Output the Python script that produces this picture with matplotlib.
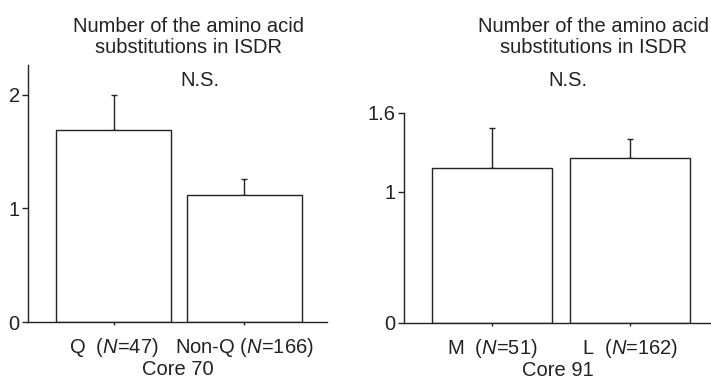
import matplotlib.pyplot as plt
import numpy as np

plt.rcParams['font.family'] = ['Liberation Sans', 'DejaVu Sans']
plt.rcParams['mathtext.fontset'] = 'custom'
plt.rcParams['mathtext.it'] = 'Liberation Sans:italic'
plt.rcParams['mathtext.rm'] = 'Liberation Sans'

title = "Number of the amino acid\nsubstitutions in ISDR"

core70_labels = ["Q  (", "Non-Q ("]
core70_n = [47, 166]
core70_means = [1.69, 1.12]
core70_err = [0.31, 0.14]

core91_labels = ["M  (", "L  ("]
core91_n = [51, 162]
core91_means = [1.18, 1.26]
core91_err = [0.305, 0.14]

ink = "#222222"
fs = 14.5

fig = plt.figure(figsize=(7.11, 3.8), dpi=100)
ax1 = fig.add_axes([28 / 711, 1 - 322 / 380, 299 / 711, 257 / 380])
ax2 = fig.add_axes([404 / 711, 1 - 323 / 380, 307 / 711, 210 / 380])


def draw_panel(ax, labels, ns, means, errs, ylim, yticks, ytick_labels, xlim, width, core):
    x = np.arange(len(means))
    ax.bar(x, means, width=width, color="white", edgecolor=ink, linewidth=1.0, zorder=2)
    ax.errorbar(x, means, yerr=[np.zeros(len(errs)), errs], fmt="none", ecolor=ink,
                elinewidth=1.0, capsize=2, capthick=1.0, zorder=1)
    ax.set_xlim(*xlim)
    ax.set_ylim(*ylim)
    ax.set_yticks(yticks)
    ax.set_yticklabels(ytick_labels, fontsize=fs, color=ink)
    ax.set_xticks(x)
    ax.set_xticklabels([lab + "$\\mathit{N}$=" + str(n) + ")" for lab, n in zip(labels, ns)],
                       fontsize=fs, color=ink)
    ax.set_xlabel(core, fontsize=fs, color=ink, labelpad=1)
    for side in ["top", "right"]:
        ax.spines[side].set_visible(False)
    for side in ["left", "bottom"]:
        ax.spines[side].set_color(ink)
        ax.spines[side].set_linewidth(1.0)
    ax.tick_params(axis="y", length=4, width=1.0, color=ink, pad=2)
    ax.tick_params(axis="x", length=2, width=1.0, color=ink, pad=8)


draw_panel(ax1, core70_labels, core70_n, core70_means, core70_err, (0, 2.26), [0, 1, 2],
           ["0", "1", "2"], (-0.653, 1.63), 0.88, "Core 70")
draw_panel(ax2, core91_labels, core91_n, core91_means, core91_err, (0, 1.6), [0, 1, 1.6],
           ["0", "1", "1.6"], (-0.64, 1.59), 0.87, "Core 91")

fig.text(188 / 711, 1 - 37 / 380, title, ha="center", va="center", fontsize=fs,
         color=ink, linespacing=1.15)
fig.text(200 / 711, 1 - 80 / 380, "N.S.", ha="center", va="center", fontsize=fs, color=ink)
fig.text(593 / 711, 1 - 37 / 380, title, ha="center", va="center", fontsize=fs,
         color=ink, linespacing=1.15)
fig.text(568 / 711, 1 - 80 / 380, "N.S.", ha="center", va="center", fontsize=fs, color=ink)

fig.savefig("out.png", dpi=100)
